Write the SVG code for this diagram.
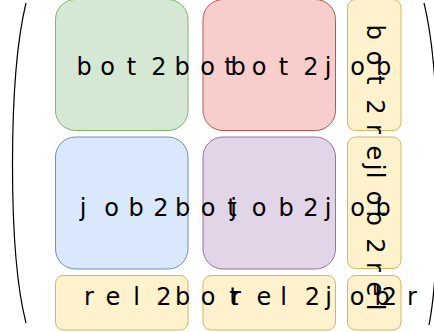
<svg xmlns="http://www.w3.org/2000/svg" width="434" height="332" viewBox="0 0 434 332">
<style>
.lbl{font-family:"DejaVu Sans",sans-serif;font-size:24px;fill:#000;text-anchor:middle}
.g{fill:#d5e8d4;stroke:#82b366}
.r{fill:#f8cecc;stroke:#b85450}
.b{fill:#dae8fc;stroke:#6c8ebf}
.p{fill:#e1d5e7;stroke:#9673a6}
.y{fill:#fff2cc;stroke:#d6b656}
.paren{fill:none;stroke:#000;stroke-width:1.2}
</style>
<defs>
<clipPath id="clipRR"><rect x="380" y="270" width="47" height="62"/></clipPath>
</defs>
<g id="connectors">
<path class="paren" d="M26,3 C17,40 12.5,90 12.5,165 C12.5,240 17,288 26,323"/>
<path class="paren" d="M424,3 C433,40 437.5,90 437.5,165 C437.5,240 436,290 429,325"/>
</g>
<g id="n_bot2bot"><rect class="g" x="55.5" y="-0.5" width="132.5" height="131" rx="20"/></g>
<g id="n_bot2job"><rect class="r" x="203" y="-0.5" width="132.5" height="131" rx="20"/></g>
<g id="n_bot2rel"><rect class="y" x="347.5" y="-0.5" width="53.5" height="131" rx="8"/></g>
<g id="n_job2bot"><rect class="b" x="55.5" y="137" width="132.5" height="132" rx="20"/></g>
<g id="n_job2job"><rect class="p" x="203" y="137" width="132.5" height="132" rx="20"/></g>
<g id="n_job2rel"><rect class="y" x="347.5" y="137" width="53.5" height="131.5" rx="8"/></g>
<g id="n_rel2bot"><rect class="y" x="55.5" y="275.5" width="132.5" height="54.5" rx="8"/></g>
<g id="n_rel2job"><rect class="y" x="203" y="275.5" width="132.5" height="54.5" rx="8"/></g>
<g id="n_rel2rel"><rect class="y" x="347.5" y="275.5" width="53.5" height="54.5" rx="8"/></g>
<g id="labels">
<text class="lbl" x="84 107.5 131.5 159 182 207.5 229" y="75">bot2bot</text>
<text class="lbl" x="238 259 283.5 311 328 357.5 383.5" y="75">bot2job</text>
<text class="lbl" x="83 111.5 136 161 182.5 208 232" y="216">job2bot</text>
<text class="lbl" x="233.5 259 286 311 328 357.5 383" y="216">job2job</text>
<text class="lbl" x="89 113 136.5 164 182.5 208 234" y="305">rel2bot</text>
<text class="lbl" x="236 264 283.5 312.5 328.5 357 382" y="305">rel2job</text>
<text class="lbl" clip-path="url(#clipRR)" x="319 343 366 389.5 412 436 459" y="305">rel2rel</text>
<text class="lbl" transform="rotate(90)" x="32 58 80 107 129 153 175" y="-367">bot2rel</text>
<text class="lbl" transform="rotate(90)" x="167 198 218 246 267 289 307" y="-367">job2rel</text>
</g>
</svg>
